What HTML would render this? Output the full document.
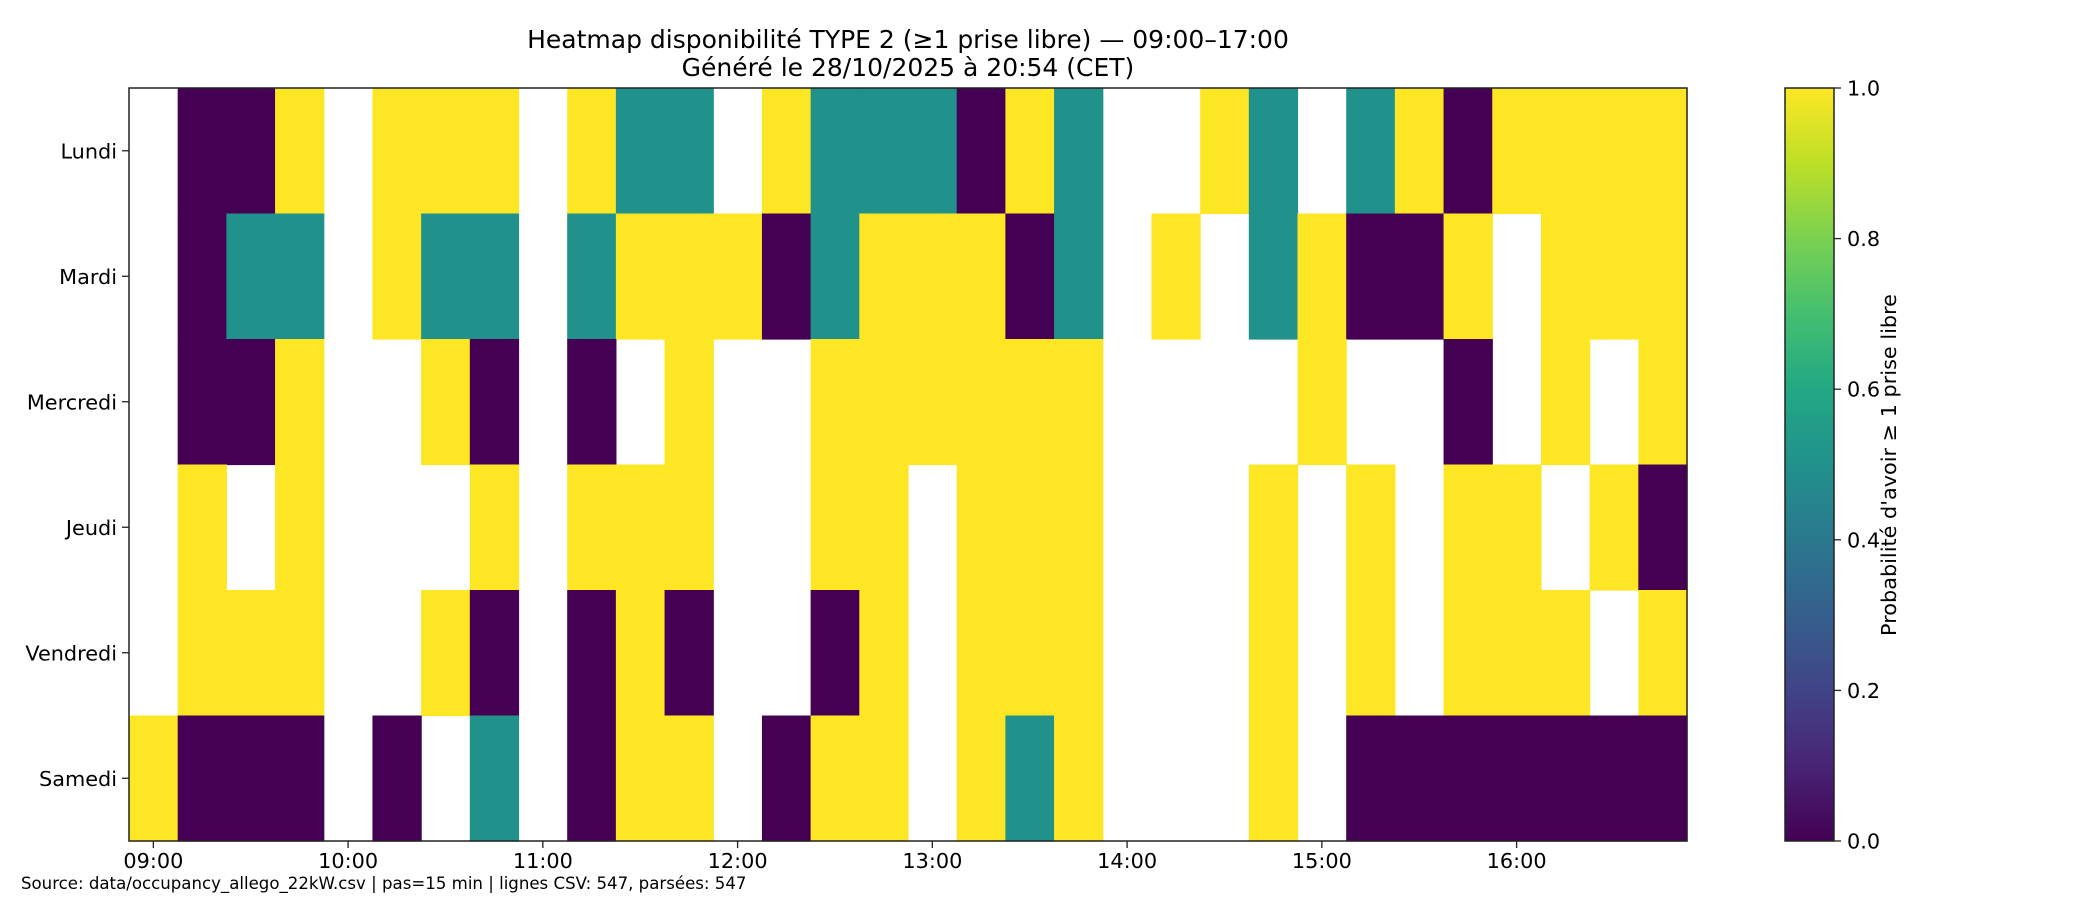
<!DOCTYPE html>
<html><head><meta charset="utf-8"><style>
body{margin:0;background:#fff}
svg text{font-family:"DejaVu Sans","Liberation Sans",sans-serif;fill:#000}
</style></head><body>
<svg id="chart" width="2100" height="900" xmlns="http://www.w3.org/2000/svg">
<defs><linearGradient id="vir" x1="0" y1="1" x2="0" y2="0">
<stop offset="0" stop-color="#440154"/><stop offset="0.1" stop-color="#482475"/><stop offset="0.2" stop-color="#414487"/><stop offset="0.3" stop-color="#355f8d"/><stop offset="0.4" stop-color="#2a788e"/><stop offset="0.5" stop-color="#21918c"/><stop offset="0.6" stop-color="#22a884"/><stop offset="0.7" stop-color="#44bf70"/><stop offset="0.8" stop-color="#7ad151"/><stop offset="0.9" stop-color="#bddf26"/><stop offset="1" stop-color="#fde725"/>
</linearGradient></defs>
<text x="908" y="48" font-size="25" text-anchor="middle">Heatmap disponibilité TYPE 2 (≥1 prise libre) — 09:00–17:00</text>
<text x="908" y="76" font-size="25" text-anchor="middle">Généré le 28/10/2025 à 20:54 (CET)</text>
<g id="cells"></g>
<rect x="129" y="88" width="1558" height="753" fill="none" stroke="#222" stroke-width="1.5"/>
<g id="axes"></g>
<rect x="1785" y="88" width="49" height="753" fill="url(#vir)" stroke="#222" stroke-width="1.5"/>
<g id="cbar"></g>
<text transform="translate(1896,465) rotate(-90)" font-size="20.8" text-anchor="middle">Probabilité d'avoir ≥ 1 prise libre</text>
<text x="21" y="889" font-size="16.6">Source: data/occupancy_allego_22kW.csv | pas=15 min | lignes CSV: 547, parsées: 547</text>
</svg>
<script>
const days=["Lundi","Mardi","Mercredi","Jeudi","Vendredi","Samedi"];
const xTickLabels=["09:00","10:00","11:00","12:00","13:00","14:00","15:00","16:00"];
const cbTicks=["0.0","0.2","0.4","0.6","0.8","1.0"];
const W=null,P=0,T=0.5,Y=1;
const rowLundi=[W,P,P,Y,W,Y,Y,Y,W,Y,T,T,W,Y,T,T,T,P,Y,T,W,W,Y,T,W,T,Y,P,Y,Y,Y,Y];
const rowMardi=[W,P,T,T,W,Y,T,T,W,T,Y,Y,Y,P,T,Y,Y,Y,P,T,W,Y,W,T,Y,P,P,Y,W,Y,Y,Y];
const rowMercredi=[W,P,P,Y,W,W,Y,P,W,P,W,Y,W,W,Y,Y,Y,Y,Y,Y,W,W,W,W,Y,W,W,P,W,Y,W,Y];
const rowJeudi=[W,Y,W,Y,W,W,W,Y,W,Y,Y,Y,W,W,Y,Y,W,Y,Y,Y,W,W,W,Y,W,Y,W,Y,Y,W,Y,P];
const rowVendredi=[W,Y,Y,Y,W,W,Y,P,W,P,Y,P,W,W,P,Y,W,Y,Y,Y,W,W,W,Y,W,Y,W,Y,Y,Y,W,Y];
const rowSamedi=[Y,P,P,P,W,P,W,T,W,P,Y,Y,W,P,Y,Y,W,Y,T,Y,W,W,W,Y,W,P,P,P,P,P,P,P];
const rows=[rowLundi,rowMardi,rowMercredi,rowJeudi,rowVendredi,rowSamedi];
const NS="http://www.w3.org/2000/svg";
const L=129,R=1687,Tp=88,B=841;
const nc=32,nr=days.length;
const cw=(R-L)/nc,rh=(B-Tp)/nr;
const xs=i=>L+i*cw, ys=j=>Tp+j*rh;
const stops=[[68,1,84],[72,36,117],[65,68,135],[53,95,141],[42,120,142],[33,145,140],[34,168,132],[68,191,112],[122,209,81],[189,223,38],[253,231,37]];
function vir(v){const f=v*10,i=Math.min(9,Math.floor(f)),t=f-i,a=stops[i],b=stops[i+1];
return `rgb(${a.map((c,k)=>Math.round(c+(b[k]-c)*t)).join(",")})`;}
const cells=document.getElementById("cells");
rows.forEach((row,j)=>row.forEach((v,i)=>{
 if(v===null)return;
 const r=document.createElementNS(NS,"rect");
 
 
 r.setAttribute("x",xs(i));r.setAttribute("y",ys(j));
 r.setAttribute("width",cw+0.6);r.setAttribute("height",rh+0.6);
 r.setAttribute("fill",vir(v));cells.appendChild(r);
}));
const ax=document.getElementById("axes");
function mk(tag,attrs,txt){const e=document.createElementNS(NS,tag);for(const k in attrs)e.setAttribute(k,attrs[k]);if(txt)e.textContent=txt;return e;}
days.forEach((d,j)=>{
 const y=ys(j+0.5);
 const l=mk("line",{x1:L-7,x2:L,y1:y,y2:y,stroke:"#222","stroke-width":1.3});
 
 
 ax.appendChild(l);
 const t=mk("text",{x:L-12,y:y+7.5,"font-size":20.8,"text-anchor":"end"},d);
 
 
 ax.appendChild(t);
});
xTickLabels.forEach((s,k)=>{
 const x=xs(k*4+0.5);
 const l=mk("line",{x1:x,x2:x,y1:B,y2:B+7,stroke:"#222","stroke-width":1.3});
 
 
 ax.appendChild(l);
 const t=mk("text",{x:x,y:B+27,"font-size":20.8,"text-anchor":"middle"},s);
 
 
 ax.appendChild(t);
});
const cb=document.getElementById("cbar");
cbTicks.forEach(s=>{
 const y=B-(parseFloat(s))*(B-Tp);
 const l=mk("line",{x1:1834,x2:1841,y1:y,y2:y,stroke:"#222","stroke-width":1.3});
 
 
 cb.appendChild(l);
 const t=mk("text",{x:1847,y:y+7.5,"font-size":20.8},s);
 
 
 cb.appendChild(t);
});
</script>
</body></html>
